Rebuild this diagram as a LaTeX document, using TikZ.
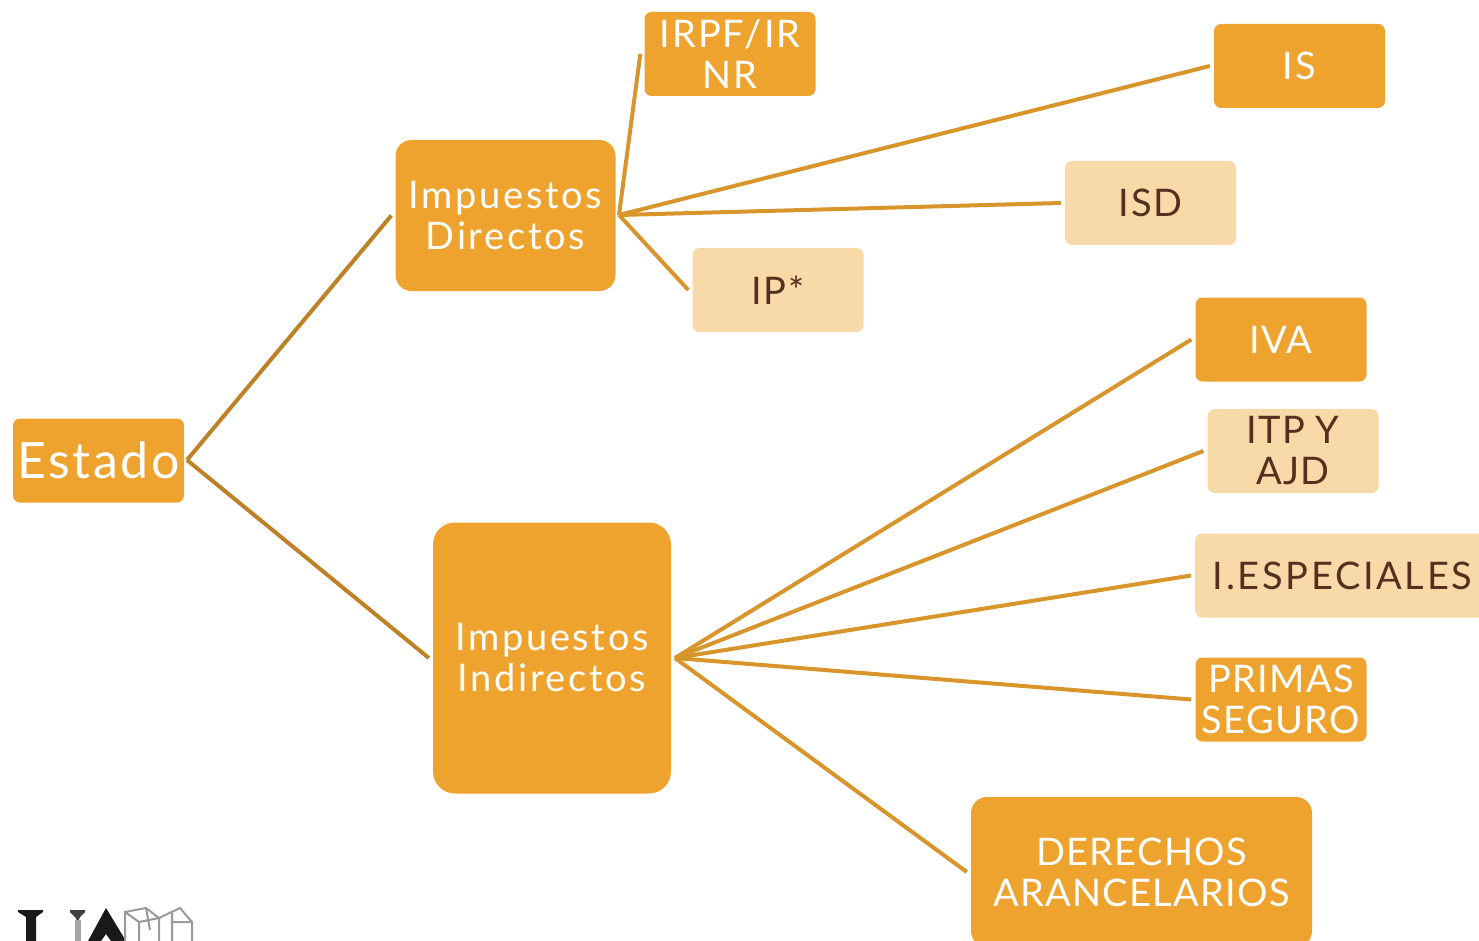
\documentclass[tikz,border=0pt]{standalone}
\usepackage{fontspec}
\setmainfont[LetterSpace=3.5]{Lato}
\newfontfamily\lsmid[LetterSpace=5.5]{Lato}
\newfontfamily\lswide[LetterSpace=7]{Lato}
\definecolor{dk}{HTML}{EFA32F}
\definecolor{lt}{HTML}{F8D9A8}
\definecolor{ln}{HTML}{D8952B}
\definecolor{ln2}{HTML}{BF8125}
\definecolor{tx}{HTML}{55301F}
\definecolor{cub}{HTML}{9A9A9A}
\tikzset{
 bx/.style={rounded corners=#1,inner sep=0pt,align=center},
 dkb/.style={fill=dk,text=white},
 ltb/.style={fill=lt,text=tx},
 lnk/.style={draw=ln,line width=4pt},
 lnk2/.style={draw=ln2,line width=4pt},
 f/.style={font=\fontsize{38}{41}\selectfont},
 fm/.style={font=\lsmid\fontsize{38}{41}\selectfont},
 fw/.style={font=\lswide\fontsize{38}{41}\selectfont},
 fb/.style={font=\lsmid\fontsize{50}{41}\selectfont}
}
\begin{document}
\begin{tikzpicture}[x=1pt,y=1pt]
\useasboundingbox (0,0) rectangle (1479,-941);
\node[bx=7pt,dkb,fb,minimum width=171pt,minimum height=84pt] (est) at (98.5,-460.5) {Estado};
\node[bx=16pt,dkb,fw,minimum width=220pt,minimum height=151pt] (dir) at (505.5,-215.5) {Impuestos\\Directos};
\node[bx=22pt,dkb,fw,minimum width=238pt,minimum height=271pt] (ind) at (552,-658) {Impuestos\\Indirectos};
\node[bx=7pt,dkb,fm,minimum width=171pt,minimum height=84pt] (irpf) at (730,-54) {IRPF/IR\\NR};
\node[bx=7pt,dkb,fm,minimum width=171pt,minimum height=84pt] (is) at (1299.5,-66) {IS};
\node[bx=7pt,ltb,fm,minimum width=171pt,minimum height=84pt] (isd) at (1150.5,-203) {ISD};
\node[bx=7pt,ltb,fm,minimum width=171pt,minimum height=84pt] (ip) at (778,-290) {IP*};
\node[bx=7pt,dkb,f,minimum width=171pt,minimum height=84pt] (iva) at (1281,-339.5) {IVA};
\node[bx=7pt,ltb,f,minimum width=171pt,minimum height=84pt] (itp) at (1293,-451) {ITP Y\\AJD};
\node[bx=7pt,ltb,minimum width=290pt,minimum height=84pt,anchor=west] (esp) at (1195,-575.5) {};
\node[fw,text=tx,inner sep=0pt] (esptx) at (1342.5,-575.5) {I.ESPECIALES};
\node[bx=7pt,dkb,f,minimum width=171pt,minimum height=84pt] (pri) at (1281,-699.5) {PRIMAS\\SEGURO};
\node[bx=16pt,dkb,f,minimum width=341pt,minimum height=150pt] (der) at (1141.5,-872) {DERECHOS\\ARANCELARIOS};
\coordinate (oe) at (187,-460);
\coordinate (od) at (619,-215);
\coordinate (oi) at (675,-658);
\draw[lnk2] (oe) -- ([xshift=-4pt]dir.west);
\draw[lnk2] (oe) -- ([xshift=-4pt]ind.west);
\draw[lnk] (od) -- ([xshift=-4pt]irpf.west);
\draw[lnk] (od) -- ([xshift=-4pt]is.west);
\draw[lnk] (od) -- ([xshift=-4pt]isd.west);
\draw[lnk] (od) -- ([xshift=-4pt]ip.west);
\draw[lnk] (oi) -- ([xshift=-4pt]iva.west);
\draw[lnk] (oi) -- ([xshift=-4pt]itp.west);
\draw[lnk] (oi) -- ([xshift=-4pt]esp.west);
\draw[lnk] (oi) -- ([xshift=-4pt]pri.west);
\draw[lnk] (oi) -- ([xshift=-4pt]der.west);
% partial logo, cut by the lower edge
\begin{scope}
\clip (0,-880) rectangle (220,-941);
\fill[black!90] (18,-910) -- (43,-910) -- (43,-912) -- (36,-917) -- (36,-941) -- (26,-941) -- (26,-917) -- (18,-912) -- cycle;
\fill[black!75] (70,-910) -- (85,-910) -- (85,-912) -- (80,-917) -- (78,-922) -- (75,-917) -- (70,-912) -- cycle;
\fill[black!35] (75,-920) rectangle (81,-941);
\fill[black!90,even odd rule] (106,-908) -- (126,-941) -- (88,-941) -- cycle (106,-934) -- (111,-941) -- (101,-941) -- cycle;
\draw[cub,line width=2pt] (125,-941) -- (125,-912) -- (146,-908) -- (159,-918) -- (159,-941)
 (159,-918) -- (180,-908) -- (192,-922) -- (192,-941)
 (125,-912) -- (139,-922) -- (139,-941) (139,-922) -- (159,-918)
 (146,-908) -- (150,-930) (172,-912) -- (172,-941) (172,-922) -- (192,-922);
\end{scope}
\end{tikzpicture}
\end{document}
